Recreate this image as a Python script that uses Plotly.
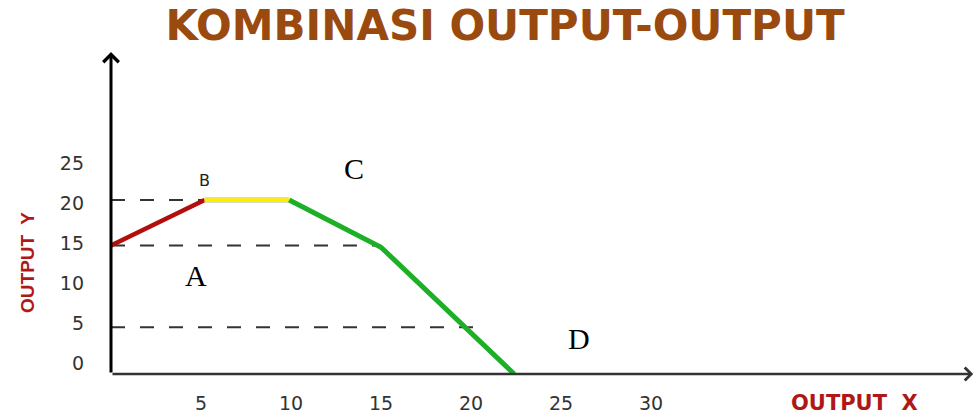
import plotly.graph_objects as go

# Production-possibility style curve: output X vs output Y
curve_x = [0, 5.2, 9.9, 15.0, 22.4]
curve_y = [14.3, 20, 20, 14.1, -1.75]

# Horizontal reference levels (dashed) and where they stop
guide_y = [20, 14.3, 4.1]
guide_x_end = [5.2, 15.0, 20.7]

# Axis ticks
x_ticks = [5, 10, 15, 20, 25, 30]
y_ticks = [0, 5, 10, 15, 20, 25]

# Point labels
point_names = ["A", "B", "C", "D"]
point_x = [4.7, 5.2, 13.5, 26.0]
point_y = [10.6, 22.4, 24.0, 2.75]

X_MAX, Y_MIN, Y_MAX = 48, -1.75, 38.5

fig = go.Figure()

# dashed guides
for gy, gx in zip(guide_y, guide_x_end):
    fig.add_trace(go.Scatter(
        x=[0, gx], y=[gy, gy], mode="lines",
        line=dict(color="#333333", width=2, dash="14px,15px"),
        hoverinfo="skip", showlegend=False))

# curve segments: rising (red), flat (yellow), falling (green)
fig.add_trace(go.Scatter(x=curve_x[0:2], y=curve_y[0:2], mode="lines",
                         line=dict(color="#B20E0C", width=4.5),
                         showlegend=False))
fig.add_trace(go.Scatter(x=curve_x[1:3], y=curve_y[1:3], mode="lines",
                         line=dict(color="#CFCFB0", width=5.5),
                         showlegend=False))
fig.add_trace(go.Scatter(x=curve_x[1:3], y=curve_y[1:3], mode="lines",
                         line=dict(color="#FFF000", width=3.5),
                         showlegend=False))
fig.add_trace(go.Scatter(x=curve_x[2:], y=curve_y[2:], mode="lines",
                         line=dict(color="#1DB027", width=5),
                         showlegend=False))

annotations = []
# axis lines with arrow heads
annotations.append(dict(x=0, y=Y_MAX, ax=0, ay=Y_MIN, xref="x", yref="y",
                        axref="x", ayref="y", text="", showarrow=True,
                        arrowhead=4, arrowsize=1, arrowwidth=3,
                        arrowcolor="#000000"))
annotations.append(dict(x=X_MAX - 0.1, y=Y_MIN, ax=0, ay=Y_MIN, xref="x", yref="y",
                        axref="x", ayref="y", text="", showarrow=True,
                        arrowhead=4, arrowsize=1, arrowwidth=2.5,
                        arrowcolor="#333333"))

# point labels
for name, px, py in zip(point_names, point_x, point_y):
    if name == "B":
        fnt = dict(family="DejaVu Sans", size=16, color="#222222")
    else:
        fnt = dict(family="Liberation Serif", size=30, color="#000000")
    annotations.append(dict(x=px, y=py, xref="x", yref="y", text=name,
                            showarrow=False, font=fnt,
                            xanchor="center", yanchor="middle"))

# axis titles
annotations.append(dict(x=-0.096, y=0.345, xref="paper", yref="paper",
                        text="OUTPUT  Y", textangle=-90, showarrow=False,
                        font=dict(family="Liberation Sans", size=19,
                                  color="#B01818", weight="bold"),
                        xanchor="center", yanchor="middle"))
annotations.append(dict(x=0.861, y=-0.09, xref="paper", yref="paper",
                        text="OUTPUT  X", showarrow=False,
                        font=dict(family="DejaVu Sans", size=21,
                                  color="#B01818", weight="bold"),
                        xanchor="center", yanchor="middle"))

fig.update_layout(
    width=978, height=416,
    margin=dict(l=111, r=3, t=52, b=42, autoexpand=False),
    paper_bgcolor="white", plot_bgcolor="white",
    title=dict(text="<b>KOMBINASI OUTPUT-OUTPUT</b>",
               x=0.5164, xanchor="center", xref="container",
               y=1 - 25 / 416, yanchor="middle", yref="container",
               font=dict(family="DejaVu Sans", size=42, color="#9A4A0E")),
    annotations=annotations,
    xaxis=dict(range=[0, X_MAX], showgrid=False, zeroline=False,
               showline=False, tickmode="array", tickvals=x_ticks,
               ticks="", ticklabelstandoff=16, automargin=False,
               tickfont=dict(family="DejaVu Sans", size=19, color="#333333")),
    yaxis=dict(range=[Y_MIN, Y_MAX], showgrid=False, zeroline=False,
               showline=False, tickmode="array", tickvals=y_ticks,
               ticks="", ticklabelstandoff=26, ticklabelshift=3,
               automargin=False,
               tickfont=dict(family="DejaVu Sans", size=19, color="#333333")),
)

fig.write_html("out.html")
